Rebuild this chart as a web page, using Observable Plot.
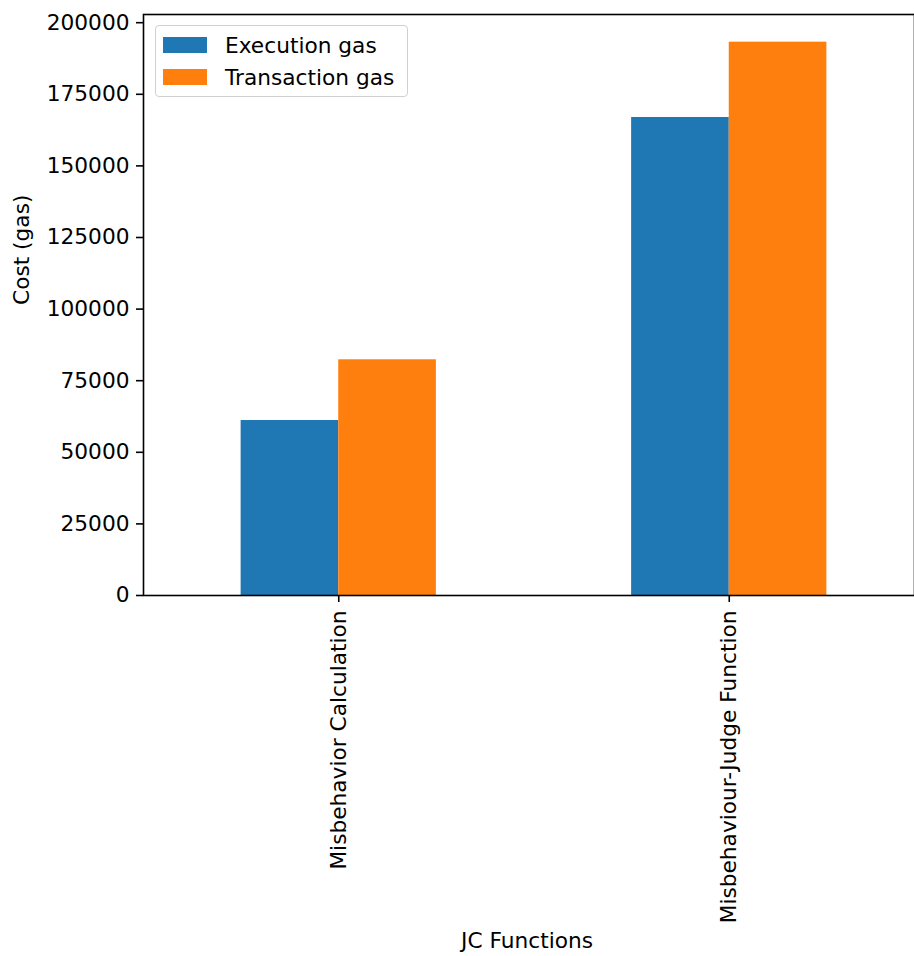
<!DOCTYPE html>
<html>
<head>
<meta charset="utf-8">
<script src="https://cdn.jsdelivr.net/npm/d3@7"></script>
<script src="https://cdn.jsdelivr.net/npm/@observablehq/plot@0.6"></script>
<style>
  html, body { margin: 0; padding: 0; background: #fff; }
  #wrap { position: relative; width: 914px; height: 956px; overflow: hidden; font-family: "DejaVu Sans", sans-serif; }
  #legend { position: absolute; left: 155px; top: 25px; width: 251px; height: 70px; border: 1px solid #d0d0d0; border-radius: 4px; background: rgba(255,255,255,0.8); }
  .item { position: absolute; left: 0; height: 20px; display: flex; align-items: center; font-size: 21.7px; color: #000; white-space: nowrap; }
  .sw { position: absolute; left: 7px; width: 44px; height: 16px; }
  .lab { position: absolute; left: 69px; }
</style>
</head>
<body>
<div id="wrap"></div>
<script>
const categories = ["Misbehavior Calculation", "Misbehaviour-Judge Function"];
const series = ["Execution gas", "Transaction gas"];
const executionGas = [61100, 166900];
const transactionGas = [82300, 193200];
const yTicks = [0, 25000, 50000, 75000, 100000, 125000, 150000, 175000, 200000];
const colors = ["#1f77b4", "#ff7f0e"];
const xLabel = "JC Functions";
const yLabel = "Cost (gas)";

const values = [executionGas, transactionGas];
const table = [];
categories.forEach((c, i) => {
  series.forEach((s, j) => {
    const x1 = i - 0.25 + j * 0.25;
    table.push({category: c, series: s, value: values[j][i], x1, x2: x1 + 0.25});
  });
});
const yMax = d3.max(table, d => d.value) * 1.05;

const fs = 21.7;
const chart = Plot.plot({
  width: 914,
  height: 956,
  marginLeft: 143,
  marginTop: 14,
  marginBottom: 361,
  marginRight: 0,
  style: {fontFamily: "DejaVu Sans, sans-serif", fontSize: fs + "px", color: "#000", background: "#fff", overflow: "hidden"},
  x: {type: "linear", domain: [-0.5, 1.5], range: [143, 924]},
  y: {domain: [0, yMax]},
  color: {domain: series, range: colors},
  marks: [
    Plot.rect(table, {x1: "x1", x2: "x2", y1: 0, y2: "value", fill: "series"}),
    Plot.axisY({ticks: yTicks, tickFormat: d3.format("d"), tickSize: 7, tickPadding: 7, fontSize: fs, strokeWidth: 1.6, stroke: "#000", fill: "#000", label: null}),
    Plot.axisX({ticks: [0, 1], tickFormat: i => categories[i], tickRotate: -90, tickSize: 7, tickPadding: 8, fontSize: fs, strokeWidth: 1.6, stroke: "#000", fill: "#000", label: null}),
    Plot.frame({stroke: "#000", strokeWidth: 1.6}),
    Plot.text([yLabel], {frameAnchor: "left", dx: -121, rotate: -90, fontSize: fs, fill: "#000"}),
    Plot.text([xLabel], {frameAnchor: "bottom", dx: -2, dy: 352, fontSize: fs, fill: "#000"})
  ]
});
const wrap = document.getElementById("wrap");
wrap.appendChild(chart);

const legend = document.createElement("div");
legend.id = "legend";
series.forEach((s, j) => {
  const item = document.createElement("div");
  item.className = "item";
  item.style.top = (9 + j * 32) + "px";
  item.style.width = "100%";
  const sw = document.createElement("div");
  sw.className = "sw";
  sw.style.background = colors[j];
  sw.style.top = "2px";
  const lab = document.createElement("span");
  lab.className = "lab";
  lab.textContent = s;
  item.appendChild(sw);
  item.appendChild(lab);
  legend.appendChild(item);
});
wrap.appendChild(legend);
</script>
</body>
</html>
